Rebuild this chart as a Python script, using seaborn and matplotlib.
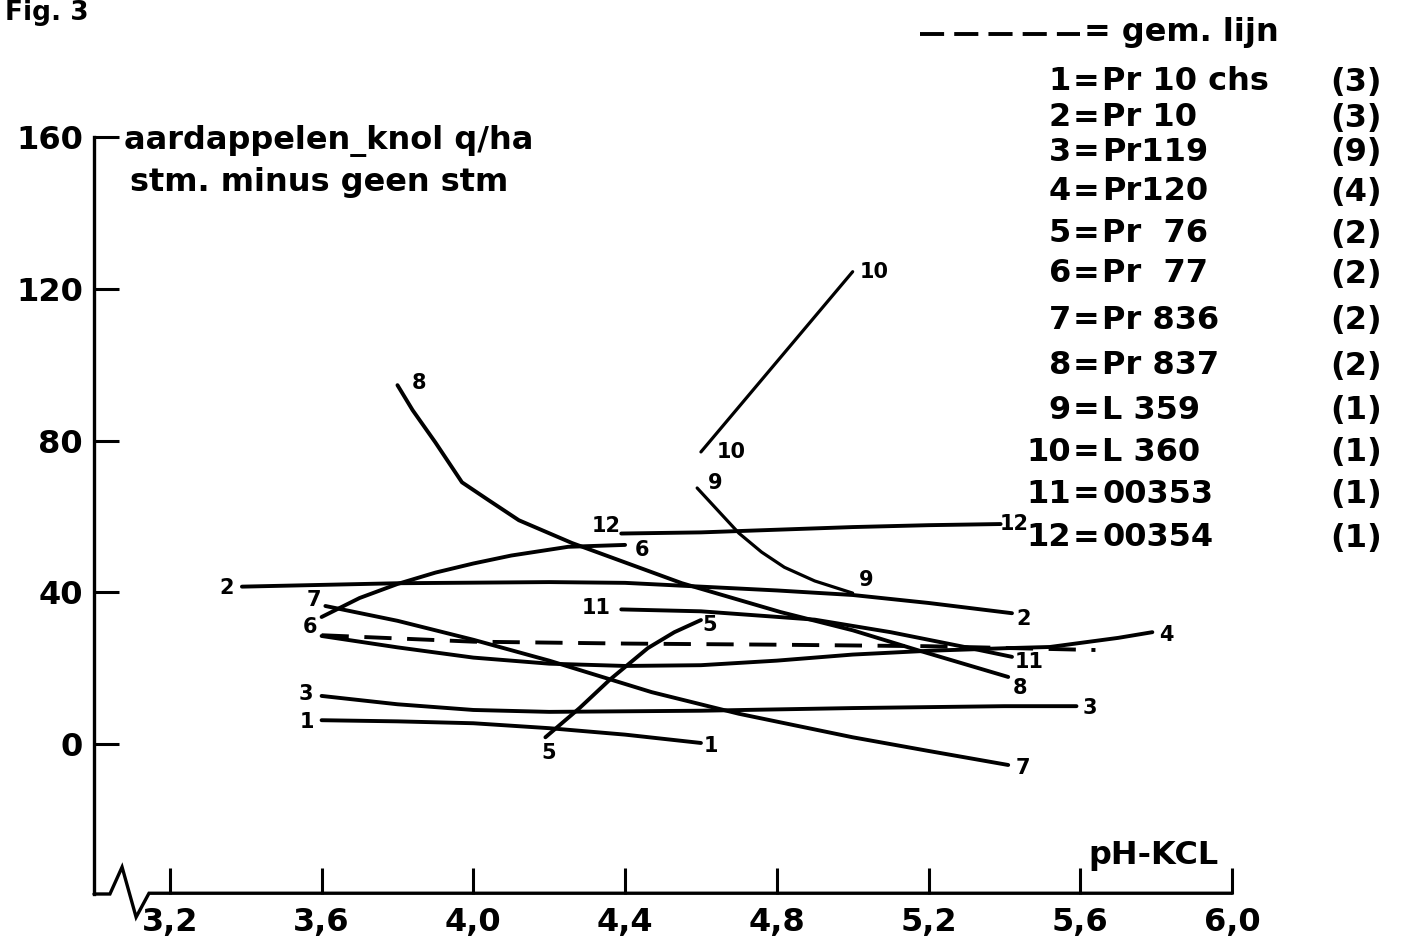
import numpy as np
import pandas as pd
import matplotlib
matplotlib.use("Agg")
import matplotlib.pyplot as plt
from matplotlib.lines import Line2D
import seaborn as sns

# ---------------- data ----------------
ph_1 = [3.60, 3.80, 4.00, 4.20, 4.40, 4.60]
val_1 = [6.3, 6.0, 5.5, 4.2, 2.5, 0.3]

ph_2 = [3.39, 3.80, 4.20, 4.40, 4.60, 4.80, 5.00, 5.20, 5.42]
val_2 = [41.5, 42.4, 42.7, 42.5, 41.5, 40.5, 39.3, 37.2, 34.5]

ph_3 = [3.60, 3.80, 4.00, 4.20, 4.60, 5.00, 5.40, 5.59]
val_3 = [12.7, 10.5, 9.0, 8.5, 8.8, 9.5, 10.0, 10.0]

ph_4 = [3.60, 3.80, 4.00, 4.20, 4.40, 4.60, 4.80, 5.00, 5.20, 5.41, 5.52, 5.70, 5.79]
val_4 = [28.5, 25.5, 22.8, 21.2, 20.6, 20.8, 22.0, 23.6, 24.6, 25.3, 25.6, 28.0, 29.5]

ph_5 = [4.19, 4.28, 4.36, 4.46, 4.53, 4.60]
val_5 = [1.8, 9.5, 17.0, 25.3, 29.5, 32.7]

ph_6 = [3.60, 3.70, 3.80, 3.90, 4.00, 4.10, 4.25, 4.40]
val_6 = [33.5, 38.5, 42.2, 45.2, 47.6, 49.7, 52.0, 52.5]

ph_7 = [3.61, 3.80, 4.00, 4.20, 4.47, 4.70, 5.00, 5.20, 5.41]
val_7 = [36.4, 32.5, 27.5, 22.0, 13.7, 8.0, 1.8, -1.8, -5.5]

ph_8 = [3.80, 3.84, 3.90, 3.97, 4.04, 4.12, 4.26, 4.55, 4.81, 5.00, 5.17, 5.41]
val_8 = [94.6, 88.0, 79.5, 69.0, 64.3, 59.0, 53.0, 42.4, 34.8, 30.0, 24.8, 17.7]

ph_9 = [4.59, 4.65, 4.70, 4.76, 4.82, 4.90, 5.00]
val_9 = [67.5, 61.0, 55.6, 50.6, 46.6, 43.0, 39.8]

ph_10 = [4.60, 5.00]
val_10 = [77.0, 124.5]

ph_11 = [4.39, 4.60, 4.90, 5.10, 5.30, 5.42]
val_11 = [35.5, 35.0, 32.8, 29.5, 25.5, 23.0]

ph_12 = [4.39, 4.60, 4.80, 5.00, 5.20, 5.39]
val_12 = [55.5, 55.8, 56.5, 57.2, 57.7, 58.0]

ph_mean = [3.60, 4.00, 4.40, 4.80, 5.20, 5.64]
val_mean = [28.7, 27.0, 26.5, 26.2, 25.8, 24.8]

curve_ids = list(range(1, 13))
curve_ph = [ph_1, ph_2, ph_3, ph_4, ph_5, ph_6, ph_7, ph_8, ph_9, ph_10, ph_11, ph_12]
curve_val = [val_1, val_2, val_3, val_4, val_5, val_6, val_7, val_8, val_9, val_10, val_11, val_12]

legend_names = ["Pr 10 chs", "Pr 10", "Pr119", "Pr120", "Pr  76", "Pr  77",
                "Pr 836", "Pr 837", "L 359", "L 360", "00353", "00354"]
legend_counts = ["(3)", "(3)", "(9)", "(4)", "(2)", "(2)",
                 "(2)", "(2)", "(1)", "(1)", "(1)", "(1)"]

x_ticks = [3.2, 3.6, 4.0, 4.4, 4.8, 5.2, 5.6, 6.0]
x_ticklabels = ["3,2", "3,6", "4,0", "4,4", "4,8", "5,2", "5,6", "6,0"]
y_ticks = [0, 40, 80, 120, 160]
y_ticklabels = ["0", "40", "80", "120", "160"]

# ---------------- layout / style ----------------
W, H = 1401, 946
# curve label offsets (pixels, y up): (start, end); None = no label
label_offsets = {
    1: ((-15, -2), (10, -3)),
    2: ((-15, -1), (12, -6)),
    3: ((-16, 2), (13, -2)),
    4: (None, (14, -3)),
    5: ((3, -16), (9, -5)),
    6: ((-12, -10), (17, -5)),
    7: ((-12, 6), (15, -3)),
    8: ((22, 2), (12, -11)),
    9: ((18, 5), (14, 13)),
    10: ((30, 0), (22, 0)),
    11: ((-25, 1), (17, -5)),
    12: ((-15, 8), (14, 0)),
}
legend_rows_y = [82, 118, 152, 192, 234, 274, 320, 366, 410, 452, 494, 538]

sns.set_theme(style="white")
plt.rcParams["font.family"] = ["DejaVu Sans"]
plt.rcParams["font.weight"] = "bold"
plt.rcParams["text.color"] = "black"
plt.rcParams["xtick.color"] = "black"
plt.rcParams["ytick.color"] = "black"
plt.rcParams["axes.labelcolor"] = "black"

df = pd.DataFrame({
    "curve": np.concatenate([[c] * len(p) for c, p in zip(curve_ids, curve_ph)]),
    "pH": np.concatenate(curve_ph),
    "value": np.concatenate(curve_val),
})

fig = plt.figure(figsize=(W / 100, H / 100), dpi=100)
fig.patch.set_facecolor("white")
ax = fig.add_axes([94 / W, 52 / H, 1138 / W, 757 / H])
ax.set_facecolor("white")

for cid in curve_ids:
    sub = df[df["curve"] == cid]
    lw = 2.3 if cid in (9, 10) else 2.8
    sns.lineplot(data=sub, x="pH", y="value", color="black", lw=lw,
                 estimator=None, sort=False, ax=ax, legend=False,
                 solid_capstyle="round", solid_joinstyle="round", clip_on=False)

sns.lineplot(x=ph_mean, y=val_mean, color="black", lw=2.8, ax=ax,
             linestyle=(0, (7, 4)), estimator=None, sort=False, legend=False)

for cid, phs, vals in zip(curve_ids, curve_ph, curve_val):
    so, eo = label_offsets[cid]
    for off, (px, vy) in ((so, (phs[0], vals[0])), (eo, (phs[-1], vals[-1]))):
        if off is None:
            continue
        ax.annotate(str(cid), xy=(px, vy), xytext=off, textcoords="offset pixels",
                    ha="center", va="center", fontsize=15, fontweight="bold",
                    color="black", annotation_clip=False)

ax.set_xlim(3.0, 6.0)
ax.set_ylim(-39.5, 160)
ax.set_xlabel("")
ax.set_ylabel("")
ax.set_xticks(x_ticks)
ax.set_xticklabels(x_ticklabels)
ax.set_yticks(y_ticks)
ax.set_yticklabels(y_ticklabels)
ax.tick_params(axis="x", direction="in", length=19, width=2.2, pad=9,
               labelsize=23, color="black", bottom=True)
ax.tick_params(axis="y", direction="in", length=18, width=2.2, pad=8,
               labelsize=23, color="black", left=True)
for lab in ax.get_xticklabels() + ax.get_yticklabels():
    lab.set_fontweight("bold")

for s in ("top", "right", "bottom"):
    ax.spines[s].set_visible(False)
ax.spines["left"].set_linewidth(2.4)
ax.spines["left"].set_color("black")

# x axis line with the axis-break zigzag
ax.plot([3.0, 3.042, 3.074, 3.111, 3.145, 6.0],
        [-39.5, -39.5, -32.4, -45.6, -39.3, -39.3],
        color="black", lw=2.4, clip_on=False, solid_joinstyle="miter")

# texts
fig.text(5 / W, 1 - 13 / H, "Fig. 3", fontsize=19, fontweight="bold",
         ha="left", va="center")
fig.text(124 / W, 1 - 141 / H, "aardappelen_knol q/ha", fontsize=23,
         fontweight="bold", ha="left", va="center")
fig.text(130 / W, 1 - 182 / H, "stm. minus geen stm", fontsize=23,
         fontweight="bold", ha="left", va="center")
fig.text(1088 / W, 1 - 855 / H, "pH-KCL", fontsize=23, fontweight="bold",
         ha="left", va="center")

# legend block
fig.add_artist(Line2D([920 / W, 1080 / W], [1 - 34 / H, 1 - 34 / H],
                      transform=fig.transFigure, color="black", lw=2.8,
                      linestyle=(0, (6.2, 2.6))))
fig.text(1084 / W, 1 - 33 / H, "= gem. lijn", fontsize=23, fontweight="bold",
         ha="left", va="center")
for cid, name, cnt, ry in zip(curve_ids, legend_names, legend_counts, legend_rows_y):
    fig.text(1071 / W, 1 - ry / H, str(cid), fontsize=23, fontweight="bold",
             ha="right", va="center")
    fig.text(1086 / W, 1 - ry / H, "=", fontsize=23, fontweight="bold",
             ha="center", va="center")
    fig.text(1102 / W, 1 - ry / H, name, fontsize=23, fontweight="bold",
             ha="left", va="center")
    fig.text(1382 / W, 1 - ry / H, cnt, fontsize=23, fontweight="bold",
             ha="right", va="center")

fig.savefig("out.png", dpi=100, facecolor="white")
